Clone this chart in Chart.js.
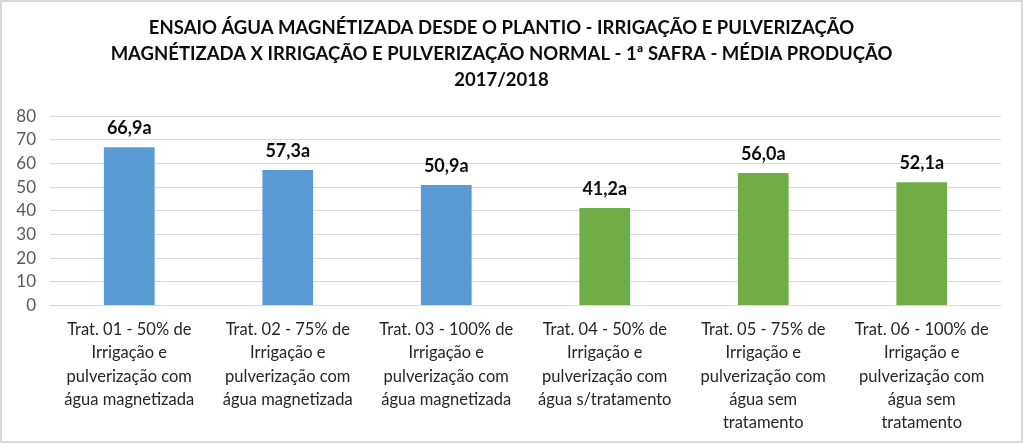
<!DOCTYPE html>
<html>
<head>
<meta charset="utf-8">
<script src="https://cdn.jsdelivr.net/npm/chart.js@4"></script>
<style>
  html, body { margin: 0; padding: 0; background: #fff; }
  #frame {
    width: 1023px; height: 443px; box-sizing: border-box;
    border: 2px solid #d9d9d9; background: #fff;
  }
  #chart { display: block; }
</style>
</head>
<body>
<div id="frame"><canvas id="chart" width="1019" height="439"></canvas></div>
<script>
// ---- dados ----
const titleLines = [
  'ENSAIO ÁGUA MAGNÉTIZADA DESDE O PLANTIO - IRRIGAÇÃO E PULVERIZAÇÃO',
  'MAGNÉTIZADA X IRRIGAÇÃO E PULVERIZAÇÃO NORMAL - 1ª SAFRA - MÉDIA PRODUÇÃO',
  '2017/2018'
];
const categories = [
  ['Trat. 01 - 50% de', 'Irrigação e', 'pulverização com', 'água magnetizada'],
  ['Trat. 02 - 75% de', 'Irrigação e', 'pulverização com', 'água magnetizada'],
  ['Trat. 03 - 100% de', 'Irrigação e', 'pulverização com', 'água magnetizada'],
  ['Trat. 04 - 50% de', 'Irrigação e', 'pulverização com', 'água s/tratamento'],
  ['Trat. 05 - 75% de', 'Irrigação e', 'pulverização com', 'água sem', 'tratamento'],
  ['Trat. 06 - 100% de', 'Irrigação e', 'pulverização com', 'água sem', 'tratamento']
];
const values = [66.9, 57.3, 50.9, 41.2, 56.0, 52.1];
const letters = ['a', 'a', 'a', 'a', 'a', 'a'];
const yTicks = [0, 10, 20, 30, 40, 50, 60, 70, 80];

const BLUE = '#5b9bd5';
const GREEN = '#70ad47';
const barColors = [BLUE, BLUE, BLUE, GREEN, GREEN, GREEN];

// rótulos de valor em cima das barras
const valueLabels = {
  id: 'valueLabels',
  afterDatasetsDraw(chart) {
    const ctx = chart.ctx;
    const meta = chart.getDatasetMeta(0);
    ctx.save();
    ctx.font = 'bold 18px Lato';
    ctx.fillStyle = '#0d0d0d';
    ctx.textAlign = 'center';
    ctx.textBaseline = 'middle';
    meta.data.forEach((bar, i) => {
      const txt = values[i].toFixed(1).replace('.', ',') + letters[i];
      ctx.fillText(txt, bar.x, bar.y - 19);
    });
    ctx.restore();
  }
};

new Chart(document.getElementById('chart'), {
  type: 'bar',
  data: {
    labels: categories,
    datasets: [{
      data: values,
      backgroundColor: barColors,
      categoryPercentage: 1,
      barPercentage: 0.32
    }]
  },
  options: {
    responsive: false,
    animation: false,
    layout: { padding: { top: 0, right: 20, bottom: -6, left: 0 } },
    plugins: {
      legend: { display: false },
      tooltip: { enabled: false },
      title: {
        display: true,
        text: titleLines,
        color: '#0d0d0d',
        font: { family: 'Lato', size: 18.5, weight: 'bold', lineHeight: 1.4 },
        padding: { top: 13, bottom: 23.5 }
      }
    },
    scales: {
      x: {
        grid: { display: false, drawTicks: false },
        border: { display: false },
        ticks: {
          color: '#262626',
          font: { family: 'Lato', size: 16.5, lineHeight: 1.4 },
          maxRotation: 0, autoSkip: false, padding: 13
        }
      },
      y: {
        min: 0, max: 80,
        afterBuildTicks(axis) { axis.ticks = yTicks.map(v => ({ value: v })); },
        afterFit(axis) { axis.width = 48; },
        grid: { color: '#d9d9d9', lineWidth: 1, drawTicks: false },
        border: { display: false },
        ticks: {
          color: '#595959',
          font: { family: 'Lato', size: 17 },
          autoSkip: false,
          padding: 14
        }
      }
    }
  },
  plugins: [valueLabels]
});
</script>
</body>
</html>
